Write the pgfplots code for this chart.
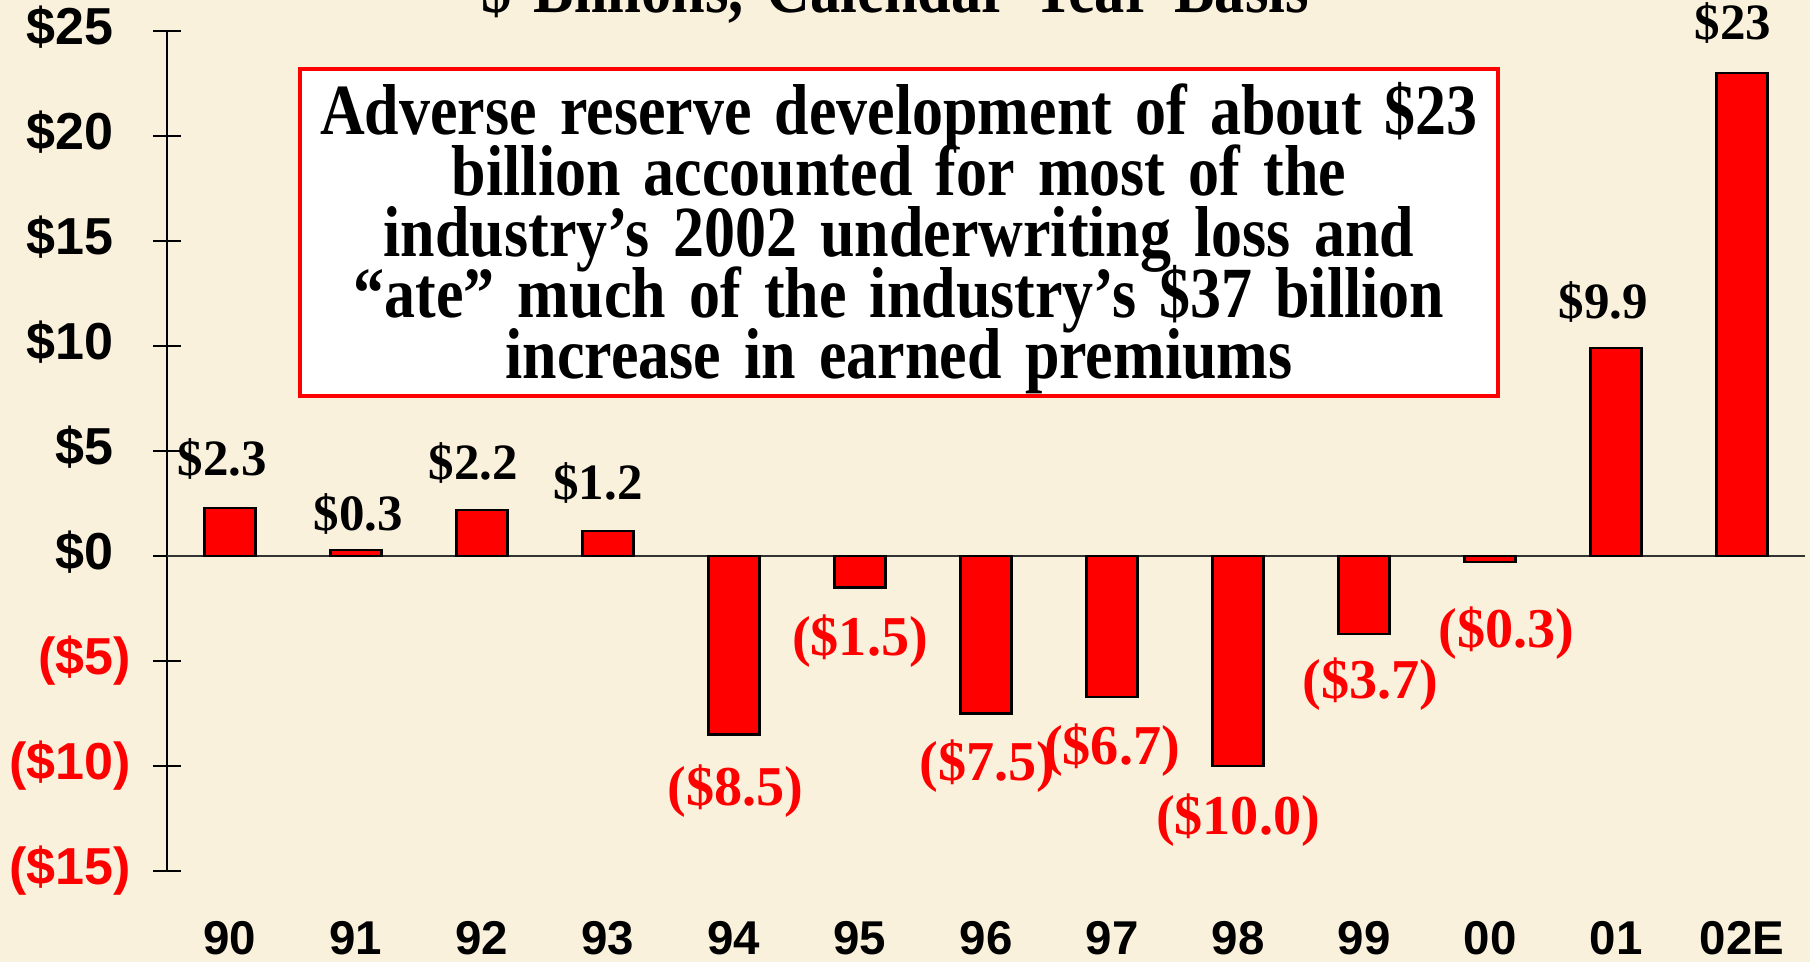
\documentclass[border=0pt]{standalone}
\usepackage{pgfplots}
\pgfplotsset{compat=1.18}
\usepackage{fontspec}
\setmainfont{Liberation Serif}
\newfontfamily\arialfont{Liberation Sans}
\newfontfamily\condfont[FakeStretch=0.86, WordSpace=1.5]{Liberation Serif}
\definecolor{parch}{RGB}{250,241,220}
\definecolor{barred}{RGB}{255,0,0}

\begin{document}
\begin{tikzpicture}
\fill[parch] (0,0) rectangle (18.10,9.62);
\useasboundingbox (0,0) rectangle (18.10,9.62);
% title, mostly cut off at the top edge as in the slide
\node[overlay, anchor=base, font=\condfont\bfseries\fontsize{20}{20}\selectfont]
  at (8.95,9.49) {\$ Billions, Calendar Year Basis};
\begin{axis}[
  at={(1.67cm,0.91cm)}, anchor=south west,
  scale only axis, width=16.38cm, height=8.40cm,
  xmin=-0.5, xmax=12.5, ymin=-15, ymax=25,
  ybar, bar width=0.51cm,
  axis y line*=left, axis x line*=bottom,
  x axis line style={draw=none},
  y axis line style={-, black, line width=0.6pt},
  xtick={0,...,12},
  xticklabels={90,91,92,93,94,95,96,97,98,99,00,01,02E},
  xtick style={draw=none},
  xticklabel style={anchor=center, yshift=-0.53cm,
    font=\arialfont\bfseries\fontsize{13.5}{13.5}\selectfont},
  ytick={-15,-10,-5,0,5,10,15,20,25},
  yticklabels={\textcolor{red}{(\$15)},\textcolor{red}{(\$10)},\textcolor{red}{(\$5)},
    \$0\phantom{)},\$5\phantom{)},\$10\phantom{)},\$15\phantom{)},\$20\phantom{)},\$25\phantom{)}},
  yticklabel style={xshift=-0.10cm,
    font=\arialfont\bfseries\fontsize{14.8}{14.8}\selectfont},
  ytick style={black, line width=0.6pt},
  tick align=center, major tick length=0.28cm,
  clip=false,
]
\draw[black!80, line width=0.6pt] (axis cs:-0.5,0) -- (axis cs:12.5,0);
\addplot[fill=barred, draw=black, line width=0.6pt] coordinates {
  (0,2.3) (1,0.3) (2,2.2) (3,1.2) (4,-8.5) (5,-1.5) (6,-7.5)
  (7,-6.7) (8,-10.0) (9,-3.7) (10,-0.3) (11,9.9) (12,23)};
% value labels
\begin{scope}[every node/.style={font=\bfseries\fontsize{14.5}{14.5}\selectfont, text=black}]
\node at (axis cs:-0.06,4.6) {\$2.3};
\node at (axis cs:1.02,1.98) {\$0.3};
\node at (axis cs:1.93,4.45) {\$2.2};
\node at (axis cs:2.92,3.5) {\$1.2};
\node at (axis cs:10.9,12.09) {\$9.9};
\node at (axis cs:11.93,25.4) {\$23};
\end{scope}
\begin{scope}[every node/.style={font=\bfseries\fontsize{16}{16}\selectfont, text=red}]
\node at (axis cs:4.01,-11.2) {(\$8.5)};
\node at (axis cs:5.0,-4.07) {(\$1.5)};
\node at (axis cs:6.01,-10.0) {(\$7.5)};
\node at (axis cs:7.0,-9.23) {(\$6.7)};
\node at (axis cs:8.0,-12.58) {(\$10.0)};
\node at (axis cs:9.05,-6.1) {(\$3.7)};
\node at (axis cs:10.13,-3.68) {(\$0.3)};
\end{scope}
\end{axis}
% annotation box
\draw[red, line width=1.2pt, fill=white] (3.00,5.66) rectangle (14.98,8.93);
\begin{scope}[every node/.style={anchor=base, inner sep=0pt,
  font=\condfont\bfseries\fontsize{20.5}{20.5}\selectfont}]
\node at (8.99,8.27) {Adverse reserve development of about \$23};
\node at (8.99,7.66) {billion accounted for most of the};
\node at (8.99,7.05) {industry’s 2002 underwriting loss and};
\node at (8.99,6.44) {“ate” much of the industry’s \$37 billion};
\node at (8.99,5.83) {increase in earned premiums};
\end{scope}
\end{tikzpicture}
\end{document}
